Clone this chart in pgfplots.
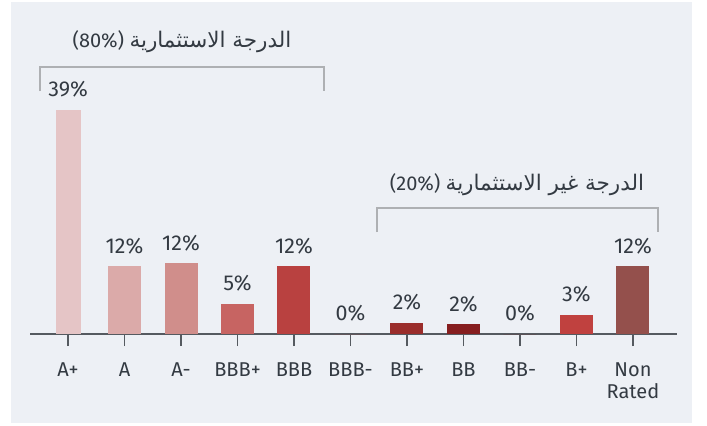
\documentclass[border=0pt]{standalone}
\usepackage{fontspec}
\setmainfont{Fira Sans}
\usepackage{pgfplots}
\pgfplotsset{compat=1.18}
\TeXXeTstate=1
\newfontfamily\arabicfont[Script=Arabic]{DejaVu Sans}
\definecolor{txt}{HTML}{333A42}
\definecolor{panel}{HTML}{EDF0F5}
\definecolor{axgray}{HTML}{555A60}
\definecolor{brgray}{HTML}{AEB0B3}
\definecolor{c1}{HTML}{E5C5C6}
\definecolor{c2}{HTML}{DBAAA9}
\definecolor{c3}{HTML}{D08E8B}
\definecolor{c4}{HTML}{C76462}
\definecolor{c5}{HTML}{B94140}
\definecolor{c6}{HTML}{B94140}
\definecolor{c7}{HTML}{9A2D2B}
\definecolor{c8}{HTML}{861E1F}
\definecolor{c9}{HTML}{861E1F}
\definecolor{c10}{HTML}{C0413F}
\definecolor{c11}{HTML}{94504C}
\newcommand{\fs}{\fontsize{20bp}{22bp}\selectfont}
\newcommand{\fn}{\fontsize{21.5bp}{24bp}\selectfont}
\newcommand{\fa}{\fontsize{21.5bp}{24bp}\selectfont}
\begin{document}
\begin{tikzpicture}[x=1bp,y=1bp]
\path[use as bounding box] (0,0) rectangle (707,425);
\fill[panel] (11,2) rectangle (692,423);
\begin{axis}[
  at={(30bp,91bp)}, anchor=south west,
  scale only axis, width=647bp, height=287bp,
  xmin=-0.673, xmax=10.78, ymin=0, ymax=50,
  axis x line=bottom, axis y line=none,
  x axis line style={-, color=axgray, line width=1.3bp},
  xtick={0,...,10},
  xticklabels={A+,A,A-,BBB+,BBB,BBB-,BB+,BB,BB-,B+,{Non\\Rated}},
  xticklabel style={font=\fs, color=txt, align=center, yshift=-13bp},
  major tick length=12bp, tick align=outside,
  xtick style={color=axgray, line width=1.2bp},
  ytick=\empty,
  ybar, bar width=33bp,
  every axis plot/.append style={bar shift=0pt, draw=none},
  nodes near coords, point meta=explicit symbolic,
  nodes near coords style={font=\fn, color=txt, anchor=south, yshift=9bp},
  clip=false,
]
\addplot[fill=c1, bar width=25bp] coordinates {(0,39) [39\%]};
\addplot[fill=c2] coordinates {(1,11.8) [12\%]};
\addplot[fill=c3] coordinates {(2,12.3) [12\%]};
\addplot[fill=c4] coordinates {(3,5.2) [5\%]};
\addplot[fill=c5] coordinates {(4,11.8) [12\%]};
\addplot[fill=c6] coordinates {(5,0) [0\%]};
\addplot[fill=c7] coordinates {(6,1.9) [2\%]};
\addplot[fill=c8] coordinates {(7,1.7) [2\%]};
\addplot[fill=c9] coordinates {(8,0) [0\%]};
\addplot[fill=c10] coordinates {(9,3.3) [3\%]};
\addplot[fill=c11] coordinates {(10,11.8) [12\%]};
\end{axis}
\draw[brgray, line width=1.3bp] (40,334) -- (40,358) -- (324,358) -- (324,334);
\draw[brgray, line width=1.3bp] (377,193) -- (377,217) -- (658,217) -- (658,193);
\node[txt] at (182,383) {\fs (80\%) {\arabicfont\fa\beginR الدرجة الاستثمارية\endR}};
\node[txt] at (517,240) {\fs (20\%) {\arabicfont\fa\beginR الدرجة غير الاستثمارية\endR}};
\end{tikzpicture}
\end{document}
